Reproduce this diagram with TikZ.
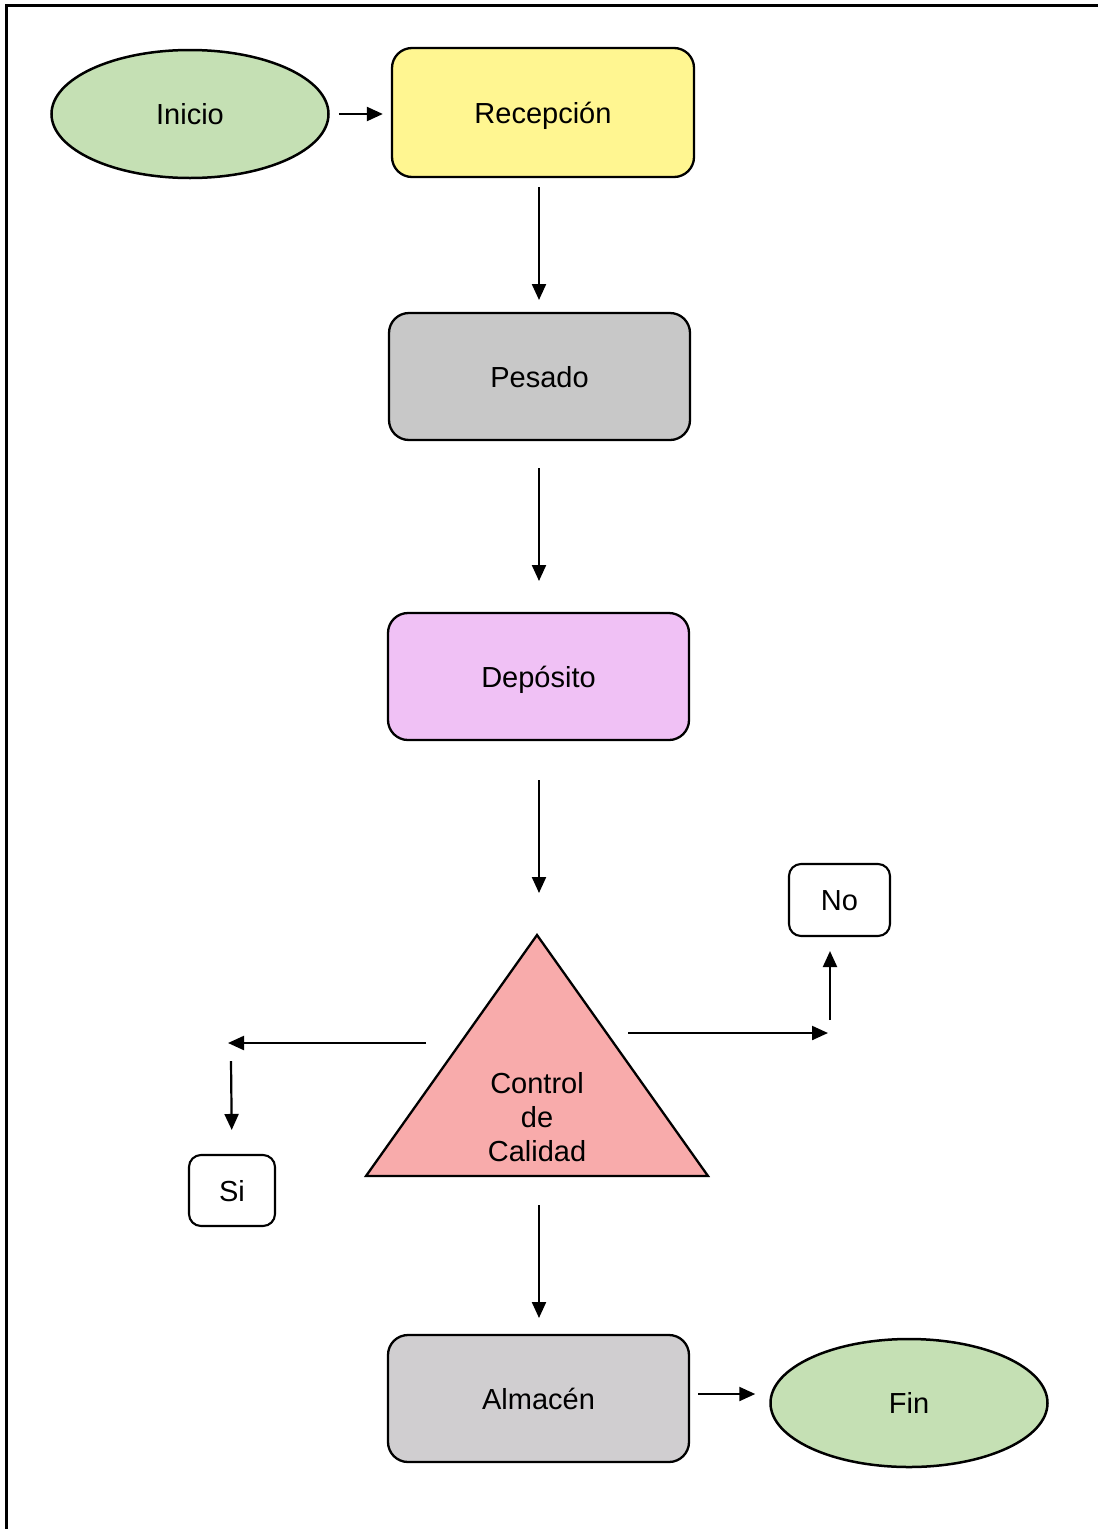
\documentclass[tikz,border=0pt]{standalone}
\usepackage{fontspec}
\setmainfont{Liberation Sans}
\usetikzlibrary{arrows.meta,shapes.geometric}
\definecolor{startgreen}{RGB}{197,224,180}
\definecolor{recyellow}{RGB}{255,246,145}
\definecolor{weighgray}{RGB}{200,200,200}
\definecolor{depviolet}{RGB}{240,193,245}
\definecolor{qcpink}{RGB}{248,171,171}
\definecolor{storegray}{RGB}{208,206,208}
\tikzset{
  x=1pt, y=-1pt,
  every node/.style={font=\fontsize{29}{34}\selectfont, text=black},
  oneline/.style={text height=26pt, text depth=5pt},
  terminal/.style={oneline, ellipse, draw=black, line width=2.5pt, minimum width=277pt, minimum height=128pt, inner sep=0pt},
  stepbox/.style={oneline, rectangle, rounded corners=20pt, draw=black, line width=2.3pt, minimum width=301pt, minimum height=127pt, inner sep=0pt},
  answer/.style={oneline, rectangle, rounded corners=12pt, draw=black, line width=2.1pt, inner sep=0pt},
  flow/.style={line width=2.2pt, -{Triangle[length=16pt,width=14pt]}},
}
\begin{document}
\begin{tikzpicture}
\useasboundingbox (0,0) rectangle (1098,1529);
% page frame (top and left edges)
\draw[line width=3.5pt] (6.5,1529) -- (6.5,5.5) -- (1098,5.5);

% process nodes
\node[terminal, fill=startgreen] (inicio) at (190,114) {Inicio};
\node[stepbox, fill=recyellow, minimum width=302pt, minimum height=129pt] (recepcion) at (543,112.5) {Recepción};
\node[stepbox, fill=weighgray] (pesado) at (539.5,376.5) {Pesado};
\node[stepbox, fill=depviolet] (deposito) at (538.5,676.5) {Depósito};
\node[stepbox, fill=storegray] (almacen) at (538.5,1398.5) {Almacén};
\node[terminal, fill=startgreen] (fin) at (909,1403) {Fin};

% quality control triangle
\coordinate (qtop) at (537,935);
\coordinate (qleft) at (366,1176);
\coordinate (qright) at (708,1176);
\draw[line width=2.3pt, fill=qcpink, line join=miter] (qtop) -- (qright) -- (qleft) -- cycle;
\node[align=center] (control) at (537,1117) {Control\\de\\Calidad};

% outcome boxes
\node[answer, minimum width=86pt, minimum height=71pt] (si) at (232,1190.5) {Si};
\node[answer, minimum width=101pt, minimum height=72pt] (no) at (839.5,900) {No};

% connector end points
\coordinate (recin) at (539,177);
\coordinate (pesin) at (539,313);
\coordinate (pesout) at (539,440);
\coordinate (depin) at (539,613);
\coordinate (depout) at (539,740);
\coordinate (qin) at (539,935);
\coordinate (qout) at (539,1176);
\coordinate (almin) at (539,1335);
\coordinate (leftfrom) at (426,1043);
\coordinate (leftto) at (228,1043);
\coordinate (sidown) at (231,1061);
\coordinate (rightfrom) at (628,1033);
\coordinate (rightto) at (828,1033);
\coordinate (noup) at (830,1020);

% main flow
\draw[flow, shorten <=9pt, shorten >=8pt] (inicio.east) -- (recepcion.west |- inicio.east);
\draw[flow, shorten <=10pt, shorten >=13pt] (recin) -- (pesin);
\draw[flow, shorten <=28pt, shorten >=32pt] (pesout) -- (depin);
\draw[flow, shorten <=40pt, shorten >=42pt] (depout) -- (qin);
\draw[flow, shorten <=29pt, shorten >=17pt] (qout) -- (almin);
\draw[flow, shorten <=8pt, shorten >=14pt] (almacen.east |- 0,1394) -- (fin.west |- 0,1394);

% quality outcomes
\draw[flow] (leftfrom) -- (leftto);
\draw[flow, shorten >=24pt] (sidown) -- (si.north);
\draw[flow] (rightfrom) -- (rightto);
\draw[flow, shorten >=14pt] (noup) -- (no.south -| noup);
\end{tikzpicture}
\end{document}
